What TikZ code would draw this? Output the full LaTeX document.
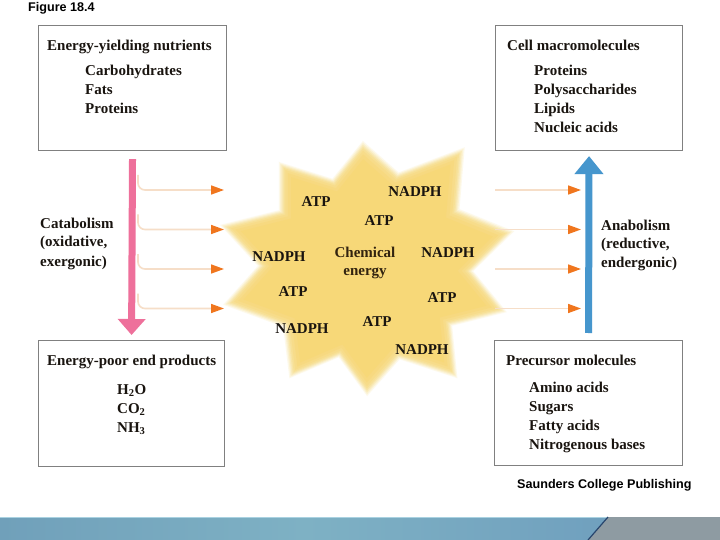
\documentclass[tikz,border=0pt]{standalone}
\usepackage{fontspec}
\setmainfont{Liberation Serif}
\newfontfamily\labelsans{Liberation Sans}
\usetikzlibrary{arrows.meta}
\definecolor{boxgray}{RGB}{128,128,128}
\definecolor{pinkar}{RGB}{238,112,155}
\definecolor{bluear}{RGB}{70,150,205}
\definecolor{peach}{RGB}{246,222,200}
\definecolor{orangehead}{RGB}{240,118,30}
\definecolor{staryellow}{RGB}{247,216,120}
\definecolor{txt}{RGB}{25,20,15}
\definecolor{chemtxt}{RGB}{50,35,15}
\definecolor{barL}{RGB}{112,160,186}
\definecolor{barM}{RGB}{126,177,196}
\definecolor{barR}{RGB}{112,160,190}
\definecolor{barTop}{RGB}{170,210,225}
\definecolor{barGray}{RGB}{142,155,162}
\definecolor{barLine}{RGB}{40,70,110}
\begin{document}
\begin{tikzpicture}[x=1pt,y=-1pt,
  box/.style={draw=boxgray, line width=1.1pt, anchor=north west, inner sep=0pt},
  txtb/.style={anchor=base west, inner sep=0pt, text=txt, font=\fontsize{15}{19}\selectfont\bfseries},
  startxt/.style={anchor=center, inner sep=0pt, text=txt, font=\fontsize{15}{19}\selectfont\bfseries},
  chemtext/.style={anchor=base, inner sep=0pt, text=chemtxt, font=\fontsize{15}{19}\selectfont\bfseries},
  sanslabel/.style={anchor=base west, inner sep=0pt, text=black, font=\labelsans\fontsize{12.6}{15}\selectfont\bfseries},
  flowarrow/.style={peach, line width=1.6pt, rounded corners=7pt, -{Triangle[length=13pt,width=9pt,color=orangehead]}},
  catarrow/.style={pinkar, line width=7pt, shorten <=8pt, shorten >=5pt, -{Triangle[length=16pt,width=27pt]}},
  anaarrow/.style={bluear, line width=7pt, shorten <=7pt, shorten >=5pt, -{Triangle[length=18pt,width=28pt]}}
]
\useasboundingbox (0,0) rectangle (720,540);
\fill[white] (0,0) rectangle (720,540);

% star (blurred edge by layered fills)
\foreach \s/\o in {1.05/0.15, 1.035/0.2, 1.02/0.25, 1.005/0.3, 0.99/0.35, 0.97/0.4, 0.94/0.5, 0.9/1}{
  \fill[staryellow, fill opacity=\o, shift={(365,268)}, scale=\s]
    (-2,-121) -- (32,-91) -- (95,-115) -- (90,-56) -- (142,-35) -- (103,3)
    -- (135,42) -- (83,55) -- (88,105) -- (33,87) -- (2,122) -- (-25,85)
    -- (-72,105) -- (-78,56) -- (-135,35) -- (-102,-2) -- (-138,-41)
    -- (-82,-55) -- (-82,-101) -- (-31,-85) -- cycle;
}

% title
\node[sanslabel] (fig) at (28,12) {Figure 18.4};

% boxes
\node[box, minimum width=188pt, minimum height=125pt] (nut) at (38,25) {};
\node[box, minimum width=187pt, minimum height=125pt] (macro) at (495,25) {};
\node[box, minimum width=186pt, minimum height=126pt] (poor) at (38,340) {};
\node[box, minimum width=188pt, minimum height=125pt] (prec) at (494,340) {};

% box texts
\node[txtb] (nuthead) at (47,51) {Energy-yielding nutrients};
\node[txtb] (nut1) at (85,76) {Carbohydrates};
\node[txtb] (nut2) at (85,95) {Fats};
\node[txtb] (nut3) at (85,114) {Proteins};

\node[txtb] (machead) at (507,51) {Cell macromolecules};
\node[txtb] (mac1) at (534,76) {Proteins};
\node[txtb] (mac2) at (534,95) {Polysaccharides};
\node[txtb] (mac3) at (534,114) {Lipids};
\node[txtb] (mac4) at (534,133) {Nucleic acids};

\node[txtb] (poorhead) at (47,365) {Energy-poor end products};
\node[txtb] (poor1) at (117,394) {H\textsubscript{2}O};
\node[txtb] (poor2) at (117,413) {CO\textsubscript{2}};
\node[txtb] (poor3) at (117,432) {NH\textsubscript{3}};

\node[txtb] (prechead) at (506,365) {Precursor molecules};
\node[txtb] (prec1) at (529,392) {Amino acids};
\node[txtb] (prec2) at (529,411) {Sugars};
\node[txtb] (prec3) at (529,430) {Fatty acids};
\node[txtb] (prec4) at (529,449) {Nitrogenous bases};

% side labels
\node[txtb] (cat1) at (40,229) {Catabolism};
\node[txtb] (cat2) at (40,247) {(oxidative,};
\node[txtb] (cat3) at (40,266) {exergonic)};
\node[txtb] (ana1) at (601,230) {Anabolism};
\node[txtb] (ana2) at (601,248) {(reductive,};
\node[txtb] (ana3) at (601,267) {endergonic)};

% main arrows
\draw[catarrow] (nut.south) -- (poor.north);
\draw[anaarrow] (prec.north) -- (macro.south);

% flow arrows
\foreach \i/\y in {1/190, 2/229.5, 3/269, 4/308.5}{
  \coordinate (ls\i) at (138,\y-15);
  \coordinate (le\i) at (224,\y);
  \coordinate (rs\i) at (495,\y);
  \coordinate (re\i) at (581,\y);
  \draw[flowarrow] (ls\i) |- (le\i);
  \draw[flowarrow] (rs\i) -- (re\i);
}

% star labels
\node[startxt] (atp1) at (316,202) {ATP};
\node[startxt] (nadph1) at (415,192) {NADPH};
\node[startxt] (atp2) at (379,221) {ATP};
\node[startxt] (nadph2) at (279,257) {NADPH};
\node[chemtext] (chem1) at (365,257) {Chemical};
\node[chemtext] (chem2) at (365,275) {energy};
\node[startxt] (nadph3) at (448,253) {NADPH};
\node[startxt] (atp3) at (293,292) {ATP};
\node[startxt] (atp4) at (442,298) {ATP};
\node[startxt] (atp5) at (377,322) {ATP};
\node[startxt] (nadph4) at (302,329) {NADPH};
\node[startxt] (nadph5) at (422,350) {NADPH};

% credit
\node[sanslabel] (credit) at (517,488) {Saunders College Publishing};

% bottom bar
\shade[left color=barL, right color=barR, middle color=barM]
  (0,517) -- (608,517) -- (588,540) -- (0,540) -- cycle;
\fill[barGray] (608,517) -- (720,517) -- (720,540) -- (588,540) -- cycle;
\draw[barTop, line width=1pt] (0,517.5) -- (608,517.5);
\draw[barLine, line width=1.2pt] (608,517) -- (588,540);
\end{tikzpicture}
\end{document}
